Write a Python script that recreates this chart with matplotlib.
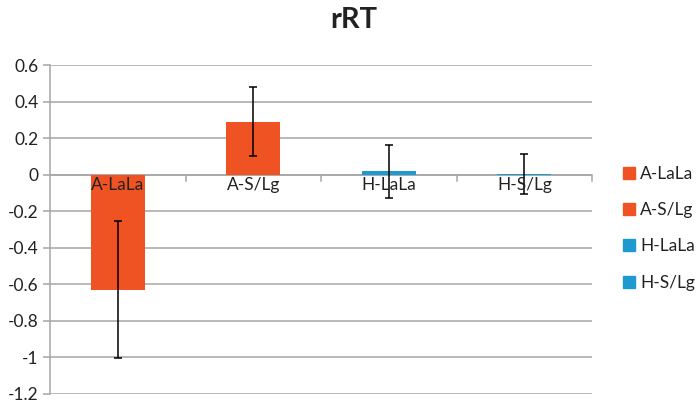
import matplotlib.pyplot as plt
import numpy as np
from matplotlib.patches import Patch

plt.rcParams['font.family'] = ['Lato', 'DejaVu Sans']

categories = ["A-LaLa", "A-S/Lg", "H-LaLa", "H-S/Lg"]
values = [-0.63, 0.29, 0.02, 0.005]
errors = [0.375, 0.19, 0.145, 0.11]
colors = ["#F05323", "#F05323", "#1E9AD0", "#1E9AD0"]
yticks = [0.6, 0.4, 0.2, 0, -0.2, -0.4, -0.6, -0.8, -1, -1.2]

fig = plt.figure(figsize=(6.96, 4.07), dpi=100)
ax = fig.add_axes([0.0718, 0.032, 0.779, 0.808])

x = np.arange(len(categories))
ax.bar(x, values, width=0.4, color=colors, zorder=2)
ax.errorbar(x, values, yerr=errors, fmt="none", ecolor="black",
            elinewidth=1.1, capsize=3, capthick=1.1, zorder=3)

ax.set_xlim(-0.5, 3.5)
ax.set_ylim(-1.2, 0.6)
ax.set_yticks(yticks)
ax.set_yticklabels([("%g" % v) for v in yticks], fontsize=12.5, color="#222222")
ax.yaxis.grid(True, color="#A6A6A6", linewidth=1.1, zorder=0)
ax.tick_params(axis="y", length=5, color="#A6A6A6", width=1.1, pad=3)
ax.set_xticks([])
for s in ["top", "right", "bottom"]:
    ax.spines[s].set_visible(False)
ax.spines["left"].set_color("#A6A6A6")
ax.spines["left"].set_linewidth(1.1)

# category labels sit on the zero line, Excel style
ax.axhline(0, color="#A6A6A6", linewidth=1.1, zorder=1)
for xi, lab in zip(x, categories):
    ax.text(xi, -0.015, lab, ha="center", va="top", fontsize=12.5, color="#222222", zorder=4)
for b in [0.5, 1.5, 2.5, 3.5]:
    ax.plot([b, b], [0, -0.035], color="#A6A6A6", linewidth=1.1, clip_on=False)

fig.text(0.508, 0.95, "rRT", ha="center", va="center", fontsize=21, fontweight="bold",
         color="#222222")

handles = [Patch(color=c, label=l) for c, l in zip(colors, categories)]
fig.legend(handles=handles, loc="center left", bbox_to_anchor=(0.895, 0.439),
           frameon=False, fontsize=12.5, handlelength=0.7, handleheight=0.7,
           handletextpad=0.3, labelspacing=1.17, borderpad=0, borderaxespad=0,
           labelcolor="#222222")

fig.savefig("out.png", dpi=100)
